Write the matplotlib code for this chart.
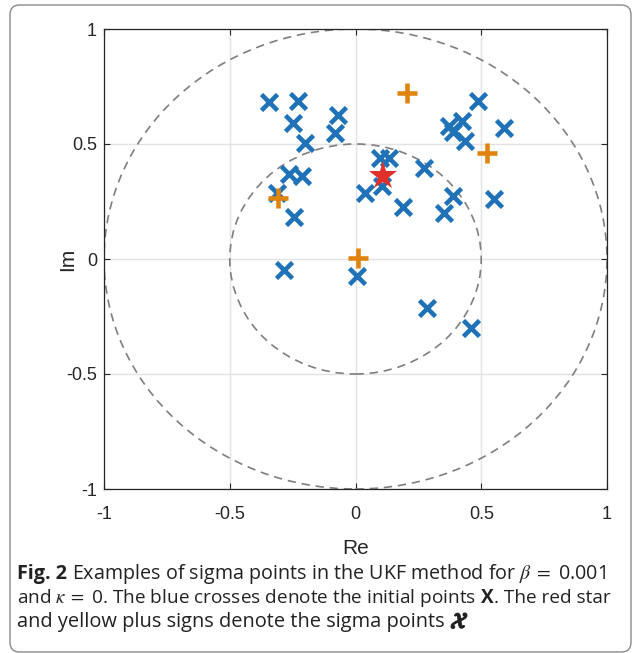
import numpy as np
import matplotlib
matplotlib.use("Agg")
import matplotlib.pyplot as plt
import matplotlib.patheffects as pe
from matplotlib.patches import Circle, FancyBboxPatch

# Blue crosses: initial points X (Re, Im)
x_re = [-0.344, -0.229, -0.249, -0.070, -0.082, -0.201, -0.264, -0.213, -0.312,
        -0.245, -0.284, 0.006, 0.038, 0.097, 0.133, 0.105, 0.189, 0.272, 0.352,
        0.388, 0.372, 0.423, 0.388, 0.435, 0.487, 0.590, 0.551, 0.284, 0.459]
x_im = [0.683, 0.687, 0.591, 0.626, 0.548, 0.504, 0.370, 0.361, 0.287,
        0.183, -0.048, -0.074, 0.287, 0.439, 0.439, 0.317, 0.226, 0.396, 0.200,
        0.274, 0.578, 0.600, 0.552, 0.513, 0.687, 0.570, 0.261, -0.213, -0.300]

# Sigma points: mean (red star) and the others (plus signs)
mean_re, mean_im = [0.108], [0.363]
sig_re = [0.205, 0.010, 0.523, -0.308]
sig_im = [0.722, 0.004, 0.461, 0.265]

radii = [0.5, 1.0]
ticks = [-1, -0.5, 0, 0.5, 1]
tick_labels = ["-1", "-0.5", "0", "0.5", "1"]

blue = "#1f72b8"
orange = "#e0840e"
red = "#e0302a"

W, H = 633, 653
fig = plt.figure(figsize=(W / 100, H / 100), dpi=100)
plt.rcParams["mathtext.fontset"] = "stix"

# rounded frame round the whole figure
frame = FancyBboxPatch((10 / W, 1 - 652 / H), 621 / W, 647 / H,
                       boxstyle="round,pad=0,rounding_size=0.015",
                       transform=fig.transFigure, fill=False,
                       edgecolor="#8a8a8a", linewidth=1.0)
fig.patches.append(frame)

ax = fig.add_axes([104 / W, 1 - 489 / H, 503 / W, 460 / H])
ax.set_xlim(-1, 1)
ax.set_ylim(-1, 1)

for r in radii:
    ax.add_patch(Circle((0, 0), r, fill=False, linestyle=(0, (5, 3.5)),
                        edgecolor="#7f7f7f", linewidth=1.2, zorder=2))

ax.plot(x_re, x_im, linestyle="none", marker="x", markersize=11.5,
        markeredgewidth=3.3, color=blue, zorder=3)
ax.plot(sig_re, sig_im, linestyle="none", marker="+", markersize=14,
        markeredgewidth=3.3, color=orange, zorder=4)
ax.plot(mean_re, mean_im, linestyle="none", marker="*", markersize=21,
        markeredgewidth=0, color=red, zorder=5)

ax.set_xticks(ticks)
ax.set_yticks(ticks)
ax.set_xticklabels(tick_labels)
ax.set_yticklabels(tick_labels)
ax.grid(True, color="#e3e3e3", linewidth=1.0)
ax.set_axisbelow(True)
ax.tick_params(direction="in", length=4, width=0.8, colors="#262626",
               labelsize=13, top=True, right=True)
ax.tick_params(axis="x", pad=12)
ax.tick_params(axis="y", pad=5)
for s in ax.spines.values():
    s.set_color("#262626")
    s.set_linewidth(0.9)
for lab in ax.get_xticklabels() + ax.get_yticklabels():
    lab.set_family("Liberation Sans")
ax.set_xlabel("Re", fontsize=15, family="Liberation Sans", color="#262626", va="center")
ax.set_ylabel("Im", fontsize=15, family="Liberation Sans", color="#262626", va="center")
ax.xaxis.set_label_coords(0.5, (489 - 548) / 460)
ax.yaxis.set_label_coords((68 - 104) / 503, 0.5)

# caption (three lines, widths matched to the reference)
cap = dict(family="Open Sans", color="#222222", va="center")
fig.canvas.draw()
rr = fig.canvas.get_renderer()
x0 = 17 / W
y1, y2, y3 = 1 - 574 / H, 1 - 598 / H, 1 - 622 / H
t = fig.text(x0, y1, "Fig. 2", fontweight="bold", fontsize=14.25, **cap)
w = t.get_window_extent(rr).width / W
fig.text(x0 + w + 5 / W, y1,
         r"Examples of sigma points in the UKF method for $\beta\;=$ 0.001",
         fontsize=14.25, **cap)
t2 = fig.text(x0, y2,
              r"and $\kappa\;=$ 0. The blue crosses denote the initial points",
              fontsize=13.7, **cap)
w2 = t2.get_window_extent(rr).width / W
t3 = fig.text(x0 + w2 + 5 / W, y2, "X", fontweight="bold", fontsize=13.7, **cap)
w3 = t3.get_window_extent(rr).width / W
fig.text(x0 + w2 + w3 + 5 / W, y2, ". The red star", fontsize=13.7, **cap)
t4 = fig.text(x0, y3, "and yellow plus signs denote the sigma points",
              fontsize=14.4, **cap)
w4 = t4.get_window_extent(rr).width / W
fig.text(x0 + w4 + 6 / W, y3, r"$\mathcal{X}$", fontsize=15.5, color="#222222",
         va="center", path_effects=[pe.withStroke(linewidth=1.3, foreground="#222222")])

fig.savefig("out.png", dpi=100)
